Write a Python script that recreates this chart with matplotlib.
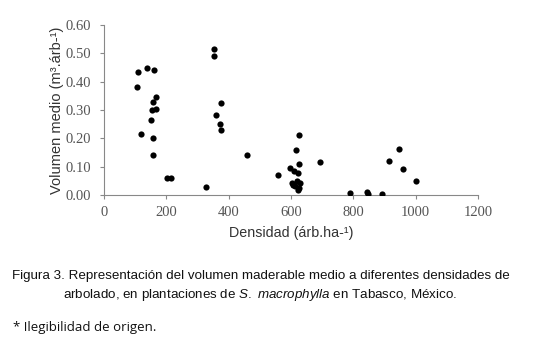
import matplotlib
matplotlib.use("Agg")
import matplotlib.pyplot as plt

densidad = [110, 106, 119, 139, 159, 167, 158, 153, 167, 152, 158, 158, 202, 216,
            327, 352, 354, 360, 374, 372, 377, 459,
            558, 597, 610, 627, 623, 617, 627, 694,
            602, 618, 629, 613, 627, 623, 608,
            788, 845, 848, 892, 915, 946, 959, 1002]
volumen = [0.433, 0.382, 0.216, 0.447, 0.442, 0.346, 0.329, 0.300, 0.302, 0.266, 0.200, 0.141, 0.061, 0.061,
           0.029, 0.516, 0.490, 0.282, 0.323, 0.251, 0.229, 0.141,
           0.070, 0.097, 0.085, 0.108, 0.079, 0.160, 0.211, 0.117,
           0.043, 0.050, 0.043, 0.032, 0.026, 0.017, 0.036,
           0.008, 0.010, 0.003, 0.002, 0.120, 0.162, 0.091, 0.048]
xticks = [0, 200, 400, 600, 800, 1000, 1200]
yticks = [0.0, 0.1, 0.2, 0.3, 0.4, 0.5, 0.6]

plt.rcParams['mathtext.fontset'] = 'custom'
plt.rcParams['mathtext.rm'] = 'Liberation Sans'
plt.rcParams['mathtext.it'] = 'Liberation Sans:italic'

fig = plt.figure(figsize=(5.4, 3.47), dpi=100)
ax = fig.add_axes([104/540, 1-195/347, (478-104)/540, (195-25)/347])
ax.scatter(densidad, volumen, s=20, color='black', zorder=3, linewidths=0)
ax.set_xlim(0, 1200)
ax.set_ylim(0, 0.6)
ax.set_xticks(xticks)
ax.set_yticks(yticks)
ax.set_xticklabels([str(v) for v in xticks], fontfamily='Liberation Serif', fontsize=10.5)
ax.set_yticklabels([f"{v:.2f}" for v in yticks], fontfamily='Liberation Serif', fontsize=10.5)
for s in ['top', 'right']:
    ax.spines[s].set_visible(False)
for s in ['left', 'bottom']:
    ax.spines[s].set_color('#888888')
    ax.spines[s].set_linewidth(0.8)
ax.tick_params(axis='both', direction='out', length=3, width=0.8, color='#888888',
               labelcolor='#555555')
ax.tick_params(axis='y', pad=6)
ax.tick_params(axis='x', pad=5)
ax.set_xlabel('Densidad (árb.ha-¹)', fontfamily='Liberation Sans', fontsize=10.3,
              color='#333333', labelpad=5)
ax.set_ylabel('Volumen medio (m³.árb-¹)', fontfamily='Liberation Sans', fontsize=10.5,
              color='#333333', labelpad=1)

fig.text(261/540, 1-276/347, 'Figura 3. Representación del volumen maderable medio a diferentes densidades de',
         ha='center', va='center', fontfamily='Liberation Sans', fontsize=9.6, color='#111111')
fig.text(260/540, 1-295/347, r'arbolado, en plantaciones de $\it{S.\ macrophylla}$ en Tabasco, México.',
         ha='center', va='center', fontfamily='Liberation Sans', fontsize=9.6, color='#111111')
fig.text(13/540, 1-328/347, '* Ilegibilidad de origen.', ha='left', va='center',
         fontfamily='Open Sans', fontsize=9.5, color='#111111')

fig.savefig('out.png', dpi=100)
